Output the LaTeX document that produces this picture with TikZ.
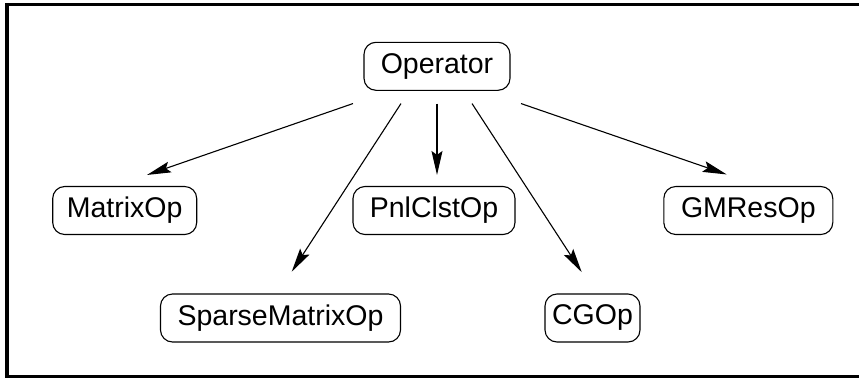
\documentclass[tikz,border=0pt]{standalone}
\usepackage{fontspec}
\setmainfont{Liberation Sans}
\usetikzlibrary{arrows.meta,calc}
\begin{document}
\begin{tikzpicture}[x=1pt,y=-1pt,
  opbox/.style={draw,rounded corners=12pt,line width=1.1pt,inner sep=0pt,
    minimum height=48pt,font=\fontsize{28.5}{30}\selectfont},
  conn/.style={line width=1.1pt,-{Stealth[length=24pt,width=11pt,inset=4pt]}}]
\useasboundingbox (0,0) rectangle (859,378);
\draw[line width=3.5pt] (859,4.5) -- (7,4.5) -- (7,376.5) -- (859,376.5);
\node[opbox,minimum width=146pt] (op) at (437,66.3) {Operator};
\node[opbox,minimum width=144pt] (mat) at (124.7,210.5) {MatrixOp};
\node[opbox,minimum width=162pt] (pnl) at (434,210.5) {PnlClstOp};
\node[opbox,minimum width=169pt] (gm) at (748.3,210.5) {GMResOp};
\node[opbox,minimum width=240pt] (sp) at (280.5,318) {SparseMatrixOp};
\node[opbox,minimum width=95pt] (cg) at (592.5,318) {CGOp};
\draw[conn] ($(op.south)+(-84,12.7)$) -- ($(mat.north)+(22.3,-11)$);
\draw[conn] ($(op.south)+(-36,12.7)$) -- ($(sp.north)+(11.2,-21.7)$);
\draw[conn] ($(op.south)+(0,12.7)$) -- ($(pnl.north)+(3,-11)$);
\draw[conn] ($(op.south)+(35,12.7)$) -- ($(cg.north)+(-10.8,-21.3)$);
\draw[conn] ($(op.south)+(84,12.7)$) -- ($(gm.north)+(-21.6,-11.5)$);
\end{tikzpicture}
\end{document}
